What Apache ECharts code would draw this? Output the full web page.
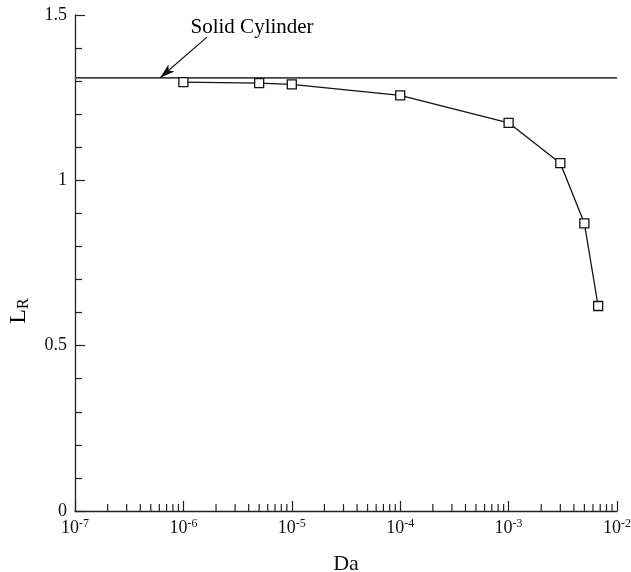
<!DOCTYPE html>
<html><head><meta charset="utf-8">
<script src="https://cdn.jsdelivr.net/npm/echarts@6/dist/echarts.min.js"></script>
<style>html,body{margin:0;padding:0;background:#fff}#c{width:631px;height:572px}</style>
</head><body><div id="c"></div>
<script>
const daValues = [1e-6, 5e-6, 1e-5, 1e-4, 1e-3, 3e-3, 5e-3, 6.7e-3];
const lrValues = [1.297, 1.294, 1.290, 1.257, 1.174, 1.052, 0.870, 0.620];
const solidCylinderLR = 1.31;
const xRange = [1e-7, 1e-2];
const yTicks = [0, 0.5, 1, 1.5];
const minorX = [];
for (let e = -7; e < -2; e++) for (let m = 2; m <= 9; m++) minorX.push(m * Math.pow(10, e));
const annotationText = 'Solid Cylinder';
const annotationPos = [4.3e-6, 1.4635];
const arrowFrom = [1.65e-6, 1.433];
const arrowTo = [6.1e-7, 1.31];

const FONT = 'Liberation Serif';
const chart = echarts.init(document.getElementById('c'), null, {renderer: 'canvas'});
chart.setOption({
  backgroundColor: '#fff',
  animation: false,
  grid: {left: 75, right: 14, top: 15, bottom: 61, containLabel: false, outerBoundsMode: 'none'},
  xAxis: {
    type: 'log', logBase: 10, min: xRange[0], max: xRange[1],
    name: 'Da', nameLocation: 'middle', nameGap: 42,
    nameTextStyle: {fontFamily: FONT, fontSize: 22, color: '#111'},
    axisLine: {lineStyle: {color: '#222', width: 1.3}},
    axisTick: {inside: true, length: 10, lineStyle: {color: '#222', width: 1.2}},
    splitLine: {show: false},
    axisLabel: {
      margin: 7, color: '#111', fontFamily: FONT,
      formatter: v => '{b|10}{s|' + Math.round(Math.log10(v)) + '}',
      rich: {b: {fontFamily: FONT, fontSize: 18, color: '#111'}, s: {fontFamily: FONT, fontSize: 12, color: '#111', padding: [0, 0, 9, 0]}}
    }
  },
  yAxis: {
    type: 'value', min: 0, max: 1.5, interval: 0.5,
    axisLine: {show: true, lineStyle: {color: '#222', width: 1.3}},
    axisTick: {inside: true, length: 10, lineStyle: {color: '#222', width: 1.2}},
    minorTick: {show: true, splitNumber: 5, length: 7, lineStyle: {color: '#222', width: 1.2}},
    splitLine: {show: false},
    axisLabel: {margin: 8, color: '#111', fontFamily: FONT, fontSize: 18,
      formatter: v => String(v)}
  },
  graphic: [{
    type: 'text', x: 19, y: 311, rotation: Math.PI / 2,
    style: {text: '{l|L}{r|R}', align: 'center', verticalAlign: 'middle',
      rich: {l: {fontFamily: FONT, fontSize: 24, color: '#111'}, r: {fontFamily: FONT, fontSize: 16, color: '#111', padding: [10, 0, 0, 0]}}}
  }],
  series: [
    {
      type: 'line', data: [[xRange[0], solidCylinderLR], [xRange[1], solidCylinderLR]],
      symbol: 'none', lineStyle: {color: '#444', width: 1.6}, silent: true,
      markLine: {
        silent: true, symbol: ['none', 'arrow'], symbolSize: [7, 15],
        label: {show: false},
        itemStyle: {color: '#111'},
        lineStyle: {color: '#111', width: 1.2, type: 'solid'},
        data: [[{coord: arrowFrom}, {coord: arrowTo}]]
      },
      markPoint: {
        silent: true, symbol: 'circle', symbolSize: 0,
        itemStyle: {color: 'transparent'},
        label: {show: true, position: 'inside', formatter: annotationText,
          fontFamily: FONT, fontSize: 21, color: '#000', textBorderWidth: 0},
        data: [{coord: annotationPos}]
      }
    },
    {
      type: 'line', data: daValues.map((d, i) => [d, lrValues[i]]),
      symbol: 'rect', symbolSize: 9,
      itemStyle: {color: '#fff', borderColor: '#111', borderWidth: 1.3},
      lineStyle: {color: '#111', width: 1.3}
    },
    {
      type: 'custom', silent: true, clip: false,
      data: minorX.map(v => [v, 0]),
      renderItem: (params, api) => {
        const p = api.coord([api.value(0), 0]);
        return {type: 'line', shape: {x1: p[0], y1: p[1], x2: p[0], y2: p[1] - 7},
          style: {stroke: '#222', lineWidth: 1.2}};
      }
    }
  ]
});
</script></body></html>
